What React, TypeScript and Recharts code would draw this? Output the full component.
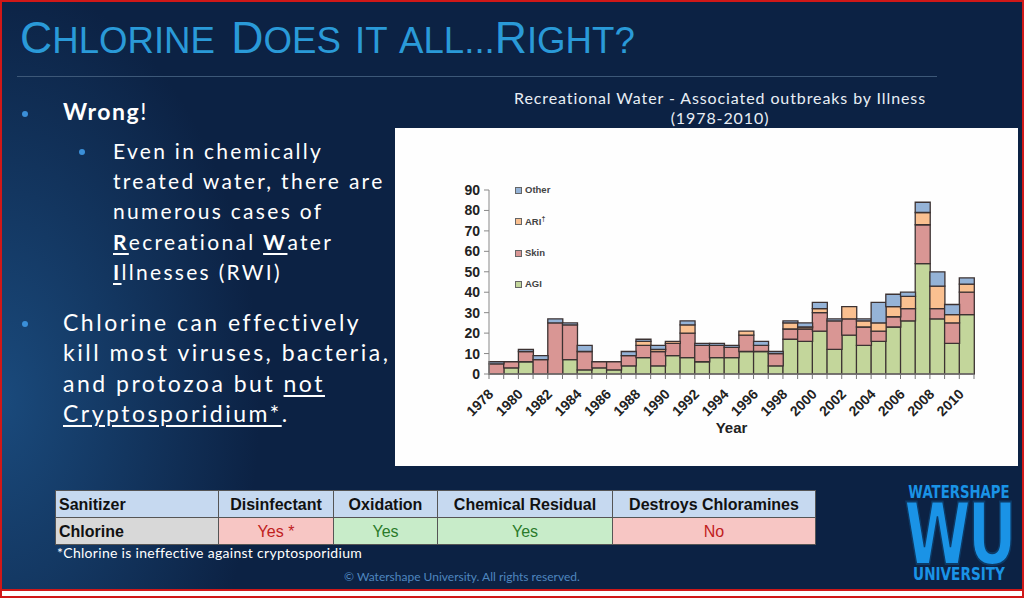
import React from "react";
import { BarChart, Bar, XAxis, YAxis, Legend } from "recharts";

// Outbreaks per year (bottom to top)
const years = ["1978", "1979", "1980", "1981", "1982", "1983", "1984", "1985", "1986", "1987", "1988", "1989", "1990", "1991", "1992", "1993", "1994", "1995", "1996", "1997", "1998", "1999", "2000", "2001", "2002", "2003", "2004", "2005", "2006", "2007", "2008", "2009", "2010"];
const agi = [0, 3, 6, 0, 0, 7, 2, 3, 2, 4, 8, 4, 9, 8, 6, 8, 8, 11, 11, 4, 17, 16, 21, 12, 19, 14, 16, 23, 26, 54, 27, 15, 29];
const skin = [5, 3, 5, 7, 25, 17, 9, 3, 4, 5, 6, 7, 6, 12, 8, 6, 5, 8, 3, 6, 5, 6, 9, 14, 8, 9, 5, 5, 6, 19, 5, 10, 11];
const ari = [0, 0, 0, 0, 0, 0, 0, 0, 0, 0, 2, 1, 1, 4, 0, 0, 0, 2, 0, 0, 3, 1, 2, 0, 6, 3, 4, 5, 6, 6, 11, 4, 4];
const other = [1, 0, 1, 2, 2, 1, 3, 0, 0, 2, 1, 2, 0, 2, 1, 1, 1, 0, 2, 1, 1, 2, 3, 1, 0, 1, 10, 6, 2, 5, 7, 5, 3];
const yTicks = [0, 10, 20, 30, 40, 50, 60, 70, 80, 90];

const data = years.map((year, i) => ({ year, AGI: agi[i], Skin: skin[i], ARI: ari[i], Other: other[i] }));

const COLORS = { AGI: "#c3d69b", Skin: "#d99694", ARI: "#fac090", Other: "#95b3d7" };

const CW = 623;
const CH = 338;
const M = { top: 62, right: 44, bottom: 0, left: 34 };
const YW = 60;
const BW = (CW - M.left - YW - M.right) / years.length;

const navy = "#0c2244";
const chartFont = "'Liberation Sans', Arial, sans-serif";
const slideFont = "Lato, 'Open Sans', sans-serif";

const YearTick = (props: any) => {
  const { x, y, index, payload } = props;
  const left = x - BW / 2;
  return (
    <g>
      <line x1={left} x2={left} y1={y} y2={y + 5} stroke="#777" />
      {index === years.length - 1 && <line x1={x + BW / 2} x2={x + BW / 2} y1={y} y2={y + 5} stroke="#777" />}
      {index % 2 === 0 && (
        <text
          transform={`translate(${x - 2},${y + 21}) rotate(-45)`}
          textAnchor="end"
          fontSize={14}
          fontWeight="bold"
          fill="#222"
          fontFamily={chartFont}
        >
          {payload.value}
        </text>
      )}
    </g>
  );
};

const LegendBox = () => {
  const items = [
    { key: "Other", label: "Other" },
    { key: "ARI", label: "ARI" },
    { key: "Skin", label: "Skin" },
    { key: "AGI", label: "AGI" },
  ];
  return (
    <div style={{ fontFamily: chartFont, fontSize: 9.5, fontWeight: "bold", color: "#444" }}>
      {items.map((it) => (
        <div key={it.key} style={{ height: 31.3, display: "flex", alignItems: "flex-start" }}>
          <span
            style={{
              display: "inline-block",
              width: 5,
              height: 5,
              marginTop: 3,
              marginRight: 3,
              background: COLORS[it.key as keyof typeof COLORS],
              border: "1px solid #666",
            }}
          />
          <span>
            {it.label}
            {it.key === "ARI" && <sup style={{ fontSize: 7 }}>†</sup>}
          </span>
        </div>
      ))}
    </div>
  );
};

const YLabel = (props: any) => {
  const vb = props.viewBox || { x: 0, y: 0, width: 0, height: 0 };
  const cx = vb.x - 39;
  const cy = vb.y + vb.height / 2 - 22;
  return (
    <text
      transform={`translate(${cx},${cy}) rotate(-90)`}
      textAnchor="middle"
      dominantBaseline="middle"
      fontSize={14}
      fontWeight="bold"
      fill="#222"
      fontFamily={chartFont}
    >
      No. of outbreaks
    </text>
  );
};

const OutbreakChart = () => (
  <BarChart width={CW} height={CH} data={data} margin={M} barCategoryGap={0} barGap={0}>
    <XAxis
      dataKey="year"
      interval={0}
      height={92}
      tickSize={0}
      tickMargin={0}
      tickLine={false}
      tick={<YearTick />}
      axisLine={{ stroke: "#888" }}
      label={{ value: "Year", position: "insideBottom", offset: 33, fontSize: 15, fontWeight: "bold", fill: "#222", fontFamily: chartFont }}
    />
    <YAxis
      width={YW}
      domain={[0, 90]}
      ticks={yTicks}
      interval={0}
      tickSize={5}
      tickMargin={4}
      axisLine={{ stroke: "#888" }}
      tickLine={{ stroke: "#888" }}
      tick={{ fontSize: 14, fontWeight: "bold", fill: "#222", fontFamily: chartFont }}
      label={<YLabel />}
    />
    <Legend
      layout="vertical"
      align="center"
      verticalAlign="middle"
      content={<LegendBox />}
      wrapperStyle={{ left: 120, top: 56, width: 60, height: 130 }}
    />
    <Bar dataKey="AGI" stackId="a" fill={COLORS.AGI} stroke="#3c3232" strokeWidth={1.3} isAnimationActive={false} />
    <Bar dataKey="Skin" stackId="a" fill={COLORS.Skin} stroke="#3c3232" strokeWidth={1.3} isAnimationActive={false} />
    <Bar dataKey="ARI" stackId="a" fill={COLORS.ARI} stroke="#3c3232" strokeWidth={1.3} isAnimationActive={false} />
    <Bar dataKey="Other" stackId="a" fill={COLORS.Other} stroke="#3c3232" strokeWidth={1.3} isAnimationActive={false} />
  </BarChart>
);

const Dot = ({ x, y }: { x: number; y: number }) => (
  <div style={{ position: "absolute", left: x, top: y, width: 6, height: 6, borderRadius: 3, background: "#3b8fd8" }} />
);

const U = ({ children }: { children: React.ReactNode }) => (
  <span style={{ textDecoration: "underline", textUnderlineOffset: 3 }}>{children}</span>
);
const BU = ({ children }: { children: React.ReactNode }) => (
  <span style={{ textDecoration: "underline", fontWeight: "bold", textUnderlineOffset: 3 }}>{children}</span>
);

// small caps drawn by hand: big first letters, smaller rest
const SC = ({ big, rest }: { big: string; rest: string }) => (
  <span>
    {big}
    <span style={{ fontSize: 37 }}>{rest}</span>
  </span>
);

const cell = (bg: string, w: number, color: string, bold: boolean, align: "left" | "center", text: string) => (
  <div
    style={{
      width: w,
      height: 27,
      background: bg,
      color,
      fontWeight: bold ? "bold" : "normal",
      textAlign: align,
      lineHeight: "27px",
      paddingLeft: align === "left" ? 3 : 0,
      boxSizing: "border-box",
      borderRight: "1px solid #555",
      borderBottom: "1px solid #555",
      whiteSpace: "nowrap",
    }}
  >
    {text}
  </div>
);

export default function App() {
  const cols = [163, 115, 104, 175, 203];
  return (
    <div
      style={{
        position: "absolute",
        left: 0,
        top: 0,
        width: 1024,
        height: 598,
        overflow: "hidden",
        background: "#fff",
      }}
    >
      <div
        style={{
          position: "absolute",
          left: 0,
          top: 0,
          width: 1024,
          height: 590,
          background: `radial-gradient(ellipse 260px 420px at 0px 400px, #1a4a7c 0%, rgba(20,60,110,0) 100%), ${navy}`,
        }}
      >
        {/* title */}
        <div
          style={{
            position: "absolute",
            left: 20,
            top: 12,
            fontFamily: "'Liberation Sans', Arial, sans-serif",
            fontSize: 45,
            lineHeight: "52px",
            color: "#2a9ad8",
            whiteSpace: "nowrap",
            wordSpacing: 4,
            transform: "scaleX(0.99)",
            transformOrigin: "left top",
          }}
        >
          <SC big="C" rest="HLORINE" /> <SC big="D" rest="OES IT ALL..." />
          <SC big="R" rest="IGHT?" />
        </div>
        <div style={{ position: "absolute", left: 17, top: 76, width: 920, height: 1, background: "#3d5878" }} />

        {/* bullets */}
        <Dot x={22} y={111} />
        <div style={{ position: "absolute", left: 63, top: 97, fontFamily: slideFont, fontSize: 23, color: "#fff", fontWeight: "bold", letterSpacing: 1.5 }}>
          Wrong<span style={{ fontWeight: "normal" }}>!</span>
        </div>
        <Dot x={79} y={149} />
        <div
          style={{
            position: "absolute",
            left: 113,
            top: 136,
            fontFamily: slideFont,
            fontSize: 21,
            lineHeight: "30.2px",
            color: "#fff",
            letterSpacing: 2.3,
            whiteSpace: "nowrap",
          }}
        >
          Even in chemically
          <br />
          treated water, there are
          <br />
          numerous cases of
          <br />
          <BU>R</BU>ecreational <BU>W</BU>ater
          <br />
          <BU>I</BU>llnesses (RWI)
        </div>
        <Dot x={22} y={321} />
        <div
          style={{
            position: "absolute",
            left: 63,
            top: 307,
            fontFamily: slideFont,
            fontSize: 23,
            lineHeight: "30.4px",
            color: "#fff",
            letterSpacing: 2.5,
            whiteSpace: "nowrap",
          }}
        >
          Chlorine can effectively
          <br />
          kill most viruses, bacteria,
          <br />
          and protozoa but <U>not</U>
          <br />
          <U>Cryptosporidium*</U>.
        </div>

        {/* chart title */}
        <div
          style={{
            position: "absolute",
            left: 395,
            top: 88,
            width: 650,
            textAlign: "center",
            fontFamily: slideFont,
            fontSize: 16,
            lineHeight: "20px",
            color: "#e8eef5",
            letterSpacing: 0.9,
          }}
        >
          Recreational Water - Associated outbreaks by Illness
          <br />
          (1978-2010)
        </div>

        {/* chart panel */}
        <div style={{ position: "absolute", left: 395, top: 128, width: CW, height: CH, background: "#fefefe" }}>
          <OutbreakChart />
        </div>

        {/* table */}
        <div
          style={{
            position: "absolute",
            left: 55,
            top: 490,
            fontFamily: "'Liberation Sans Narrow', 'Liberation Sans', Arial, sans-serif",
            fontSize: 16,
            borderLeft: "1px solid #555",
            borderTop: "1px solid #555",
          }}
        >
          <div style={{ display: "flex" }}>
            {cell("#c6d9f0", cols[0], "#111", true, "left", "Sanitizer")}
            {cell("#c6d9f0", cols[1], "#111", true, "center", "Disinfectant")}
            {cell("#c6d9f0", cols[2], "#111", true, "center", "Oxidation")}
            {cell("#c6d9f0", cols[3], "#111", true, "center", "Chemical Residual")}
            {cell("#c6d9f0", cols[4], "#111", true, "center", "Destroys Chloramines")}
          </div>
          <div style={{ display: "flex" }}>
            {cell("#d8d8d8", cols[0], "#111", true, "left", "Chlorine")}
            {cell("#f7c6c4", cols[1], "#c0201c", false, "center", "Yes *")}
            {cell("#c8ecc9", cols[2], "#2a7a2a", false, "center", "Yes")}
            {cell("#c8ecc9", cols[3], "#2a7a2a", false, "center", "Yes")}
            {cell("#f7c6c4", cols[4], "#c0201c", false, "center", "No")}
          </div>
        </div>
        <div style={{ position: "absolute", left: 57, top: 544, fontFamily: slideFont, fontSize: 14, color: "#fff", letterSpacing: 0.3 }}>
          *Chlorine is ineffective against cryptosporidium
        </div>
        <div style={{ position: "absolute", left: 0, width: 924, top: 569, textAlign: "center", fontFamily: slideFont, fontSize: 12, color: "#4f86bf" }}>
          © Watershape University. All rights reserved.
        </div>

        {/* logo */}
        <div style={{ position: "absolute", left: 879, top: 0, width: 160, height: 590, fontFamily: "'DejaVu Sans', sans-serif", fontWeight: "bold", color: "#1a93e6", textAlign: "center" }}>
          <div style={{ position: "absolute", left: 0, top: 484, width: 160, fontSize: 17, lineHeight: "17px", transform: "scaleX(0.78)", whiteSpace: "nowrap" }}>WATERSHAPE</div>
          <div
            style={{
              position: "absolute",
              left: 0,
              top: 502,
              width: 160,
              fontSize: 86,
              lineHeight: "64px",
              transform: "scaleX(0.7)",
              letterSpacing: -4,
              whiteSpace: "nowrap",
              WebkitTextStroke: "2px #0d3a66",
            }}
          >
            WU
          </div>
          <div style={{ position: "absolute", left: 0, top: 566, width: 160, fontSize: 17, lineHeight: "17px", transform: "scaleX(0.8)", whiteSpace: "nowrap" }}>UNIVERSITY</div>
        </div>
      </div>
      {/* red frame */}
      <div style={{ position: "absolute", left: 0, top: 0, width: 1024, height: 591, boxSizing: "border-box", border: "2px solid #d01818", pointerEvents: "none" }} />
      <div style={{ position: "absolute", left: 0, top: 591, width: 1024, height: 7, boxSizing: "border-box", borderLeft: "2px solid #d01818", borderRight: "2px solid #d01818", borderBottom: "2px solid #d01818", pointerEvents: "none" }} />
    </div>
  );
}
